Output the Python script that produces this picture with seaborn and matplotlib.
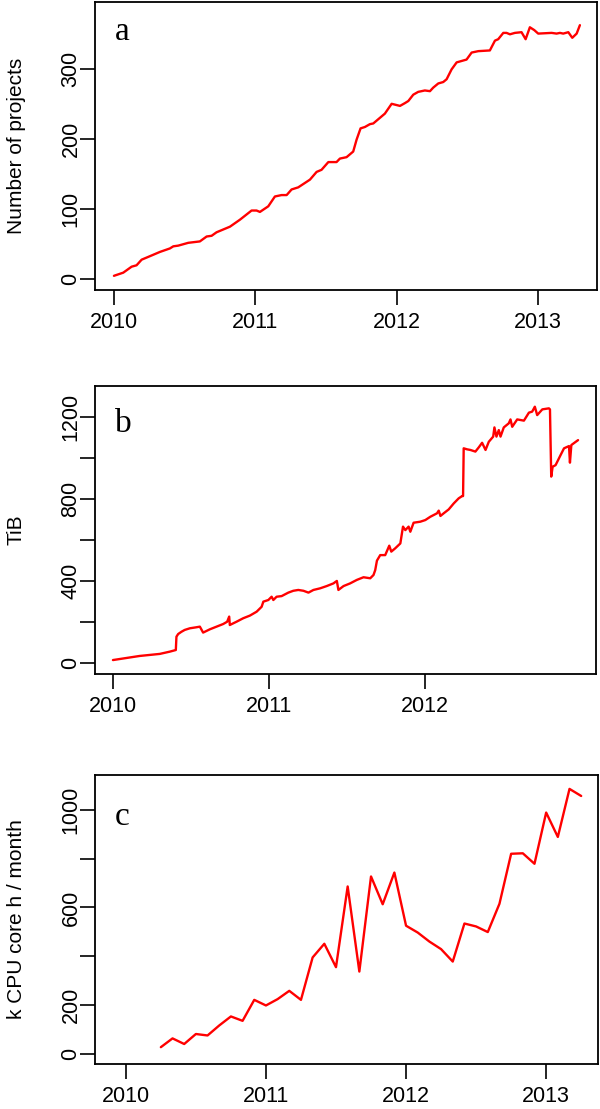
import matplotlib
matplotlib.use('Agg')

import matplotlib.pyplot as plt
import seaborn as sns
import pandas as pd

# panel a: number of projects
a_year = [2010.000, 2010.066, 2010.125, 2010.160, 2010.196, 2010.255, 2010.325, 2010.396,
          2010.420, 2010.455, 2010.526, 2010.608, 2010.656, 2010.691, 2010.726, 2010.821,
          2010.892, 2010.974, 2011.009, 2011.033, 2011.092, 2011.139, 2011.186, 2011.222,
          2011.257, 2011.304, 2011.387, 2011.434, 2011.469, 2011.517, 2011.575, 2011.599,
          2011.646, 2011.693, 2011.717, 2011.745, 2011.776, 2011.811, 2011.835, 2011.917,
          2011.965, 2012.024, 2012.059, 2012.083, 2012.118, 2012.153, 2012.200, 2012.236,
          2012.259, 2012.295, 2012.330, 2012.354, 2012.389, 2012.425, 2012.495, 2012.531,
          2012.578, 2012.660, 2012.696, 2012.719, 2012.755, 2012.778, 2012.802, 2012.837,
          2012.884, 2012.913, 2012.943, 2012.974, 2013.002, 2013.097, 2013.132, 2013.156,
          2013.179, 2013.215, 2013.243, 2013.274, 2013.297]
a_projects = [5, 9.5, 18, 20, 28, 33, 39, 44, 47, 48, 52, 54, 61, 62, 67, 75,
              85, 98, 98, 96, 104, 118, 120, 120, 128, 131, 142, 153, 156, 167, 167, 172,
              174, 182, 199, 215, 217, 221, 222, 236, 250, 247, 251, 254, 263, 267, 269, 268,
              273, 279, 281, 285, 299, 309, 313, 323, 325, 326, 340, 342, 351, 351, 349, 351,
              352, 342, 359, 355, 350, 351, 350, 351, 350, 352, 344, 350, 362]

# panel b: storage in TiB
b_year = [2010.000, 2010.171, 2010.300, 2010.364, 2010.403, 2010.407, 2010.418, 2010.439,
          2010.460, 2010.493, 2010.535, 2010.557, 2010.578, 2010.621, 2010.664, 2010.707,
          2010.732, 2010.745, 2010.749, 2010.792, 2010.835, 2010.878, 2010.921, 2010.953,
          2010.964, 2010.996, 2011.017, 2011.028, 2011.049, 2011.081, 2011.124, 2011.156,
          2011.188, 2011.221, 2011.253, 2011.285, 2011.328, 2011.370, 2011.413, 2011.435,
          2011.445, 2011.478, 2011.520, 2011.563, 2011.606, 2011.649, 2011.670, 2011.681,
          2011.692, 2011.713, 2011.745, 2011.771, 2011.784, 2011.809, 2011.842, 2011.859,
          2011.874, 2011.895, 2011.906, 2011.927, 2011.970, 2012.002, 2012.034, 2012.077,
          2012.088, 2012.099, 2012.120, 2012.152, 2012.184, 2012.216, 2012.238, 2012.244,
          2012.248, 2012.270, 2012.291, 2012.323, 2012.345, 2012.366, 2012.388, 2012.409,
          2012.437, 2012.445, 2012.458, 2012.473, 2012.484, 2012.505, 2012.537, 2012.548,
          2012.559, 2012.591, 2012.634, 2012.666, 2012.687, 2012.704, 2012.719, 2012.752,
          2012.794, 2012.801, 2012.809, 2012.818, 2012.837, 2012.869, 2012.891, 2012.923,
          2012.929, 2012.938, 2012.981]
b_tib = [16, 36, 46, 57, 65, 130, 143, 154, 163, 171, 176, 179, 150, 166, 179, 192,
         203, 228, 187, 203, 220, 233, 252, 276, 301, 309, 325, 309, 325, 328, 345, 354,
         358, 354, 345, 358, 366, 377, 390, 402, 358, 377, 390, 407, 420, 415, 431, 455,
         501, 528, 528, 574, 545, 561, 585, 667, 650, 667, 642, 686, 691, 699, 715, 732,
         745, 719, 732, 751, 780, 805, 816, 816, 1049, 1044, 1041, 1033, 1054, 1076, 1041, 1081,
         1106, 1151, 1106, 1138, 1106, 1151, 1171, 1190, 1154, 1190, 1184, 1223, 1228, 1252, 1211, 1239,
         1244, 1239, 911, 959, 967, 1016, 1049, 1060, 979, 1065, 1089]

# panel c: monthly CPU usage, April 2010 - April 2013
c_month = pd.date_range('2010-04-01', periods=37, freq='MS')
c_year = [d.year + (d.month - 1) / 12 for d in c_month]
c_cpu = [27, 63, 40, 81, 75, 116, 153, 135, 221, 198, 224, 258, 221, 395, 451, 355,
         686, 337, 727, 613, 743, 525, 497, 460, 429, 378, 534, 522, 499, 615, 820, 822,
         779, 989, 889, 1086, 1057]

panels = [
    dict(x=a_year, y=a_projects, label='Number of projects', letter='a',
         xlim=(2009.866, 2013.418), ylim=(-15.2, 395),
         xticks=[2010, 2011, 2012, 2013], yticks=[0, 100, 200, 300],
         ylabels=['0', '100', '200', '300'], ly=0.868,
         rect=[95/600, (1109-290)/1109, 502/600, 288/1109]),
    dict(x=b_year, y=b_tib, label='TiB', letter='b',
         xlim=(2009.885, 2013.096), ylim=(-52, 1353),
         xticks=[2010, 2011, 2012], yticks=[0, 200, 400, 600, 800, 1000, 1200],
         ylabels=['0', '', '400', '', '800', '', '1200'], ly=0.84,
         rect=[95/600, (1109-674)/1109, 501/600, 288/1109]),
    dict(x=c_year, y=c_cpu, label='k CPU core h / month', letter='c',
         xlim=(2009.78, 2013.37), ylim=(-42, 1143),
         xticks=[2010, 2011, 2012, 2013], yticks=[0, 200, 400, 600, 800, 1000],
         ylabels=['0', '200', '', '600', '', '1000'], ly=0.827,
         rect=[95/600, (1109-1064)/1109, 503/600, 289/1109]),
]

sns.set_theme(style='ticks')
plt.rcParams['font.family'] = ['Liberation Sans', 'DejaVu Sans']

fig = plt.figure(figsize=(6, 11.09), dpi=100)

for p in panels:
    ax = fig.add_axes(p['rect'])
    df = pd.DataFrame({'year': p['x'], 'value': p['y']})
    sns.lineplot(data=df, x='year', y='value', color='red', linewidth=1.7,
                 sort=False, estimator=None, ax=ax)
    ax.set_xlim(*p['xlim'])
    ax.set_ylim(*p['ylim'])
    ax.set_xticks(p['xticks'])
    ax.set_xticklabels([str(t) for t in p['xticks']])
    ax.set_yticks(p['yticks'])
    ax.set_yticklabels(p['ylabels'], rotation=90, va='center')
    ax.set_xlabel('')
    ax.set_ylabel(p['label'], fontsize=15, color='black')
    ax.yaxis.set_label_coords(-0.138, 0.5)
    for s in ax.spines.values():
        s.set_visible(True)
        s.set_linewidth(1.3)
        s.set_color('black')
    ax.tick_params(direction='out', length=10.8, width=1.2, color='black',
                   labelsize=15.5, labelcolor='black')
    ax.tick_params(axis='x', pad=5)
    ax.tick_params(axis='y', pad=-1)
    ax.text(0.04, p['ly'], p['letter'], transform=ax.transAxes, color='black',
            fontsize=24, family='Liberation Serif', ha='left', va='baseline')

fig.savefig('out.png', dpi=100)
